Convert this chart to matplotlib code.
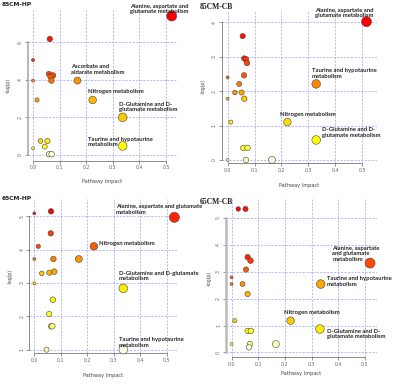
import numpy as np
import matplotlib
matplotlib.use("Agg")
import matplotlib.pyplot as plt
import colorsys

W, H = 400, 388

# ---- data: pathway impact (x) and -log(p) (y) for every panel ----
hp85_x = [0.521, 0.063, 0.0, 0.060, 0.075, 0.066, 0.069, 0.0, 0.167, 0.015, 0.224,
          0.337, 0.028, 0.054, 0.044, 0.0, 0.060, 0.070, 0.337]
hp85_y = [7.38, 6.16, 5.04, 4.30, 4.22, 4.15, 3.95, 3.95, 3.95, 2.92, 2.92,
          2.00, 0.74, 0.74, 0.44, 0.35, 0.04, 0.04, 0.48]

cb85_x = [0.516, 0.056, 0.062, 0.068, 0.072, 0.061, 0.0, 0.043, 0.329, 0.027, 0.052,
          0.0, 0.062, 0.222, 0.012, 0.329, 0.058, 0.074, 0.0, 0.068, 0.165]
cb85_y = [4.02, 3.60, 2.95, 2.93, 2.82, 2.46, 2.40, 2.21, 2.21, 1.96, 1.96,
          1.78, 1.78, 1.10, 1.10, 0.58, 0.35, 0.35, 0.0, 0.0, 0.0]

hp65_x = [0.529, 0.0, 0.063, 0.062, 0.015, 0.225, 0.0, 0.072, 0.168, 0.028, 0.057,
          0.075, 0.0, 0.336, 0.070, 0.056, 0.063, 0.068, 0.046, 0.336]
hp65_y = [4.97, 5.09, 5.15, 4.49, 4.10, 4.10, 3.72, 3.72, 3.72, 3.29, 3.31,
          3.34, 2.99, 2.84, 2.50, 2.07, 1.70, 1.70, 1.00, 1.00]

cb65_x = [0.025, 0.052, 0.060, 0.071, 0.519, 0.054, 0.0, 0.0, 0.041, 0.334, 0.060,
          0.221, 0.012, 0.331, 0.060, 0.072, 0.0, 0.069, 0.065, 0.166]
cb65_y = [5.33, 5.33, 3.54, 3.41, 3.32, 3.08, 2.79, 2.54, 2.54, 2.54, 2.17,
          1.18, 1.18, 0.87, 0.80, 0.80, 0.31, 0.31, 0.19, 0.31]

titles = ["85CM-HP", "85CM-CB", "65CM-HP", "65CM-CB"]

# labels: (text, x, y) in data units
hp85_lab = [("Alanine, aspartate and\nglutamate metabolism", 0.365, 7.76),
            ("Ascorbate and\naldarate metabolism", 0.143, 4.55),
            ("Nitrogen metabolism", 0.207, 3.35),
            ("D-Glutamine and D-\nglutamate metabolism", 0.323, 2.55),
            ("Taurine and hypotaurine\nmetabolism", 0.207, 0.69)]
cb85_lab = [("Alanine, aspartate and\nglutamate metabolism", 0.324, 4.27),
            ("Taurine and hypotaurine\nmetabolism", 0.312, 2.52),
            ("Nitrogen metabolism", 0.194, 1.33),
            ("D-Glutamine and D-\nglutamate metabolism", 0.349, 0.80)]
hp65_lab = [("Alanine, aspartate and glutamate\nmetabolism", 0.307, 5.21),
            ("Nitrogen metabolism", 0.244, 4.19),
            ("D-Glutamine and D-glutamate\nmetabolism", 0.320, 3.21),
            ("Taurine and hypotaurine\nmetabolism", 0.320, 1.21)]
cb65_lab = [("Alanine, aspartate\nand glutamate\nmetabolism", 0.378, 3.66),
            ("Taurine and hypotaurine\nmetabolism", 0.357, 2.64),
            ("Nitrogen metabolism", 0.196, 1.49),
            ("D-Glutamine and D-\nglutamate metabolism", 0.356, 0.69)]


def heat_colors(n):
    # same idea as R heat.colors: red -> yellow, then yellow -> pale
    j = n // 4
    i = n - j
    cols = [colorsys.hsv_to_rgb(h, 1, 1) for h in np.linspace(0, 1 / 6, i)]
    if j > 0:
        for s in np.linspace(1 - 1 / (2 * j), 1 / (2 * j), j):
            cols.append(colorsys.hsv_to_rgb(1 / 6, s, 1))
    return cols


def panel(rect, xlim, ylim, yticks, xs, ys, labels, title, tpos, tfont, xlab_y, ylab_x, spine):
    l, t, r, b = rect
    ax = fig.add_axes([l / W, 1 - b / H, (r - l) / W, (b - t) / H])
    xs = np.array(xs); ys = np.array(ys)
    n = len(ys)
    order = np.argsort(-ys, kind="stable")
    cmap = heat_colors(n)
    cols = [None] * n
    for rank, idx in enumerate(order):
        cols[idx] = cmap[rank]
    d_px = 3 + 7 * np.sqrt(xs / 0.52)
    sizes = (d_px * 0.72) ** 2
    ax.scatter(xs, ys, s=sizes, c=cols, edgecolors="#444444", linewidths=0.4,
               zorder=3, clip_on=False)
    for txt, tx, ty in labels:
        ax.text(tx, ty, txt, fontsize=4.2, fontweight="bold", color="#222222",
                family="Lato", ha="left", va="center", linespacing=1.15, zorder=4)
    ax.set_xlim(xlim); ax.set_ylim(ylim)
    ax.set_xticks([0, 0.1, 0.2, 0.3, 0.4, 0.5])
    ax.set_xticklabels(["0.0", "0.1", "0.2", "0.3", "0.4", "0.5"])
    ax.set_yticks(yticks)
    ax.grid(True, linestyle=(0, (3, 2)), color="#9a9aff", linewidth=0.5)
    ax.set_axisbelow(True)
    for s in ["top", "right"]:
        ax.spines[s].set_visible(False)
    ax.spines["left"].set_bounds(yticks[0], yticks[-1])
    ax.spines["bottom"].set_bounds(0, 0.5)
    ax.spines["left"].set_color(spine[0])
    ax.spines["left"].set_linewidth(spine[1])
    ax.spines["bottom"].set_color("#777777")
    ax.spines["bottom"].set_linewidth(0.6)
    ax.tick_params(length=2, width=0.5, labelsize=3.4, pad=1.5, colors="#666666")
    for lab in ax.get_yticklabels():
        lab.set_rotation(90)
        lab.set_va("center")
    fig.text(tpos[0] / W, 1 - tpos[1] / H, title, fontsize=tfont[0], family=tfont[1],
             fontweight="bold", ha="left", va="center", color="#222222")
    cx = (l + r) / 2
    fig.text(cx / W, 1 - xlab_y / H, "Pathway Impact", fontsize=3.6,
             ha="center", va="center", color="#444444")
    fig.text(ylab_x / W, 1 - ((t + b) / 2) / H, "-log(p)", fontsize=3.3,
             rotation=90, ha="center", va="center", color="#444444")
    return ax


fig = plt.figure(figsize=(W / 100, H / 100), dpi=100)

panel((27.7, 10, 177, 160.6), (-0.02, 0.541), (-0.3, 7.7), [0, 2, 4, 6],
      hp85_x, hp85_y, hp85_lab, titles[0], (2, 5), (4.3, "DejaVu Sans"), 181, 8,
      ("#aaaaaa", 1.2))
panel((221.7, 10, 377, 163), (-0.022, 0.555), (-0.09, 4.36), [0, 1, 2, 3, 4],
      cb85_x, cb85_y, cb85_lab, titles[1], (200, 7), (5.5, "Liberation Serif"), 185, 203,
      ("#777777", 0.6))
panel((29.3, 199, 177, 353), (-0.019, 0.539), (0.9, 5.52), [1, 2, 3, 4, 5],
      hp65_x, hp65_y, hp65_lab, titles[2], (2, 199), (4.3, "DejaVu Sans"), 376, 10,
      ("#777777", 0.6))
panel((226, 199, 377, 357), (-0.021, 0.545), (-0.17, 5.7), [0, 1, 2, 3, 4, 5],
      cb65_x, cb65_y, cb65_lab, titles[3], (200, 202), (5.5, "Liberation Serif"), 373, 209,
      ("#bbbbbb", 1.8))

fig.savefig("out.png", dpi=100)
